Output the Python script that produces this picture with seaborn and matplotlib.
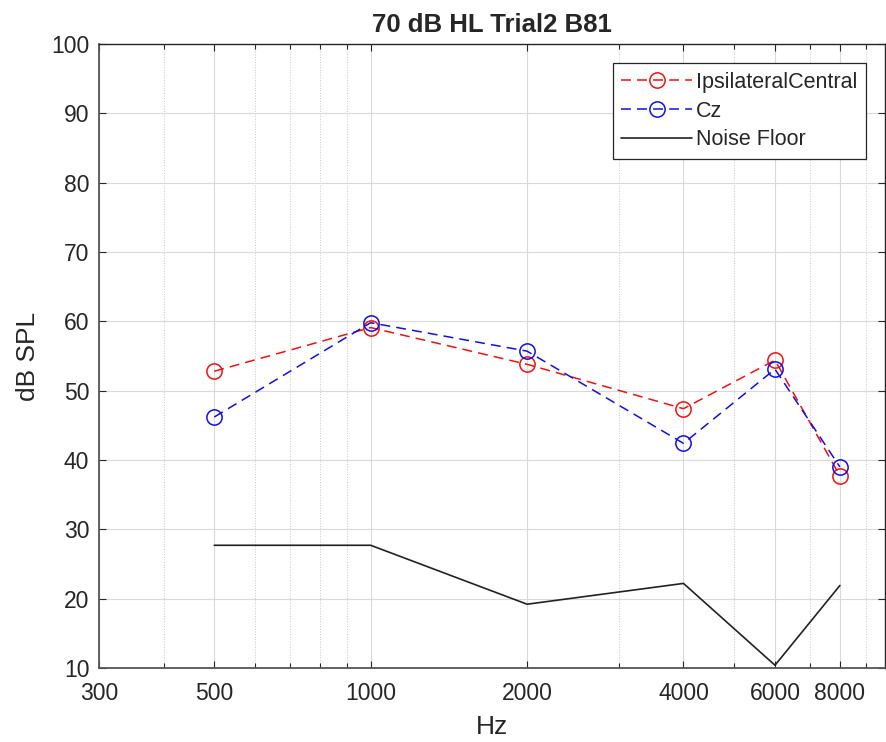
import matplotlib
matplotlib.use("Agg")
import matplotlib.pyplot as plt
import matplotlib.ticker as mticker
import seaborn as sns
import pandas as pd

freqs = [500, 1000, 2000, 4000, 6000, 8000]
ipsi = [52.8, 59.1, 53.8, 47.4, 54.4, 37.7]
cz = [46.2, 59.8, 55.7, 42.4, 53.1, 39.0]
noise = [27.7, 27.7, 19.2, 22.2, 10.4, 21.9]
xtick_vals = [300, 500, 1000, 2000, 4000, 6000, 8000]
xtick_labels = ["300", "500", "1000", "2000", "4000", "6000", "8000"]
ytick_vals = [10, 20, 30, 40, 50, 60, 70, 80, 90, 100]

sns.set_theme(style="white")
plt.rcParams["font.family"] = ["Liberation Sans", "DejaVu Sans"]

fig = plt.figure(figsize=(8.87, 7.42), dpi=100)
ax = fig.add_axes([99 / 887, 1 - 668 / 742, (885 - 99) / 887, (668 - 44) / 742])

df = pd.DataFrame({"Hz": freqs, "ipsi": ipsi, "cz": cz, "noise": noise})

dash = (6.5, 4.0)
sns.lineplot(data=df, x="Hz", y="ipsi", ax=ax, color="#f01010", dashes=False,
             linewidth=1.1, marker="o", markersize=11, markerfacecolor="none",
             markeredgecolor="#f01010", markeredgewidth=1.1,
             label="IpsilateralCentral", zorder=3)
sns.lineplot(data=df, x="Hz", y="cz", ax=ax, color="#1010e0", dashes=False,
             linewidth=1.1, marker="o", markersize=11, markerfacecolor="none",
             markeredgecolor="#1010e0", markeredgewidth=1.1,
             label="Cz", zorder=3)
sns.lineplot(data=df, x="Hz", y="noise", ax=ax, color="#222222", linestyle="-",
             linewidth=1.2, label="Noise Floor", zorder=3)
for ln in ax.lines[:2]:
    ln.set_dashes(dash)

ax.set_xscale("log")
ax.set_xlim(300, 9770)
ax.set_ylim(10, 100)
ax.xaxis.set_major_locator(mticker.FixedLocator(xtick_vals))
ax.xaxis.set_major_formatter(mticker.FixedFormatter(xtick_labels))
ax.xaxis.set_minor_locator(mticker.LogLocator(base=10, subs=range(1, 10), numticks=20))
ax.xaxis.set_minor_formatter(mticker.NullFormatter())
ax.set_yticks(ytick_vals)

ax.grid(True, which="major", color="#d9d9d9", linewidth=0.8, linestyle="-")
ax.grid(True, which="minor", axis="x", color="#c8c8c8", linewidth=0.7, linestyle=":")
ax.set_axisbelow(True)

for s in ax.spines.values():
    s.set_visible(True)
    s.set_color("#262626")
    s.set_linewidth(1.0)
ax.spines["left"].set_color("#555555")
ax.spines["bottom"].set_color("#555555")
ax.spines["left"].set_linewidth(1.3)
ax.spines["bottom"].set_linewidth(1.3)

ax.tick_params(which="both", direction="in", top=True, right=True, bottom=True, left=True,
               color="#262626", labelcolor="#262626")
ax.tick_params(which="major", length=5, width=0.8)
ax.tick_params(which="minor", length=3.5, width=0.8)
ax.tick_params(axis="x", which="major", labelsize=16.5, pad=10)
ax.tick_params(axis="y", which="major", labelsize=16.5, pad=7)

ax.set_xlabel("Hz", fontsize=19, color="#262626", labelpad=7)
ax.set_ylabel("dB SPL", fontsize=19, color="#262626", labelpad=8)
ax.set_title("70 dB HL Trial2 B81", fontsize=18.5, fontweight="bold", pad=9)

leg = ax.legend(loc="upper right", fontsize=15.5, frameon=True, fancybox=False,
                edgecolor="#262626", framealpha=1, handlelength=3.3,
                borderaxespad=0.9, borderpad=0.4, labelspacing=0.36,
                handletextpad=0.15)
leg.get_frame().set_linewidth(0.9)
for h in leg.get_lines()[:2]:
    h.set_dashes(dash)

fig.savefig("out.png", dpi=100)
